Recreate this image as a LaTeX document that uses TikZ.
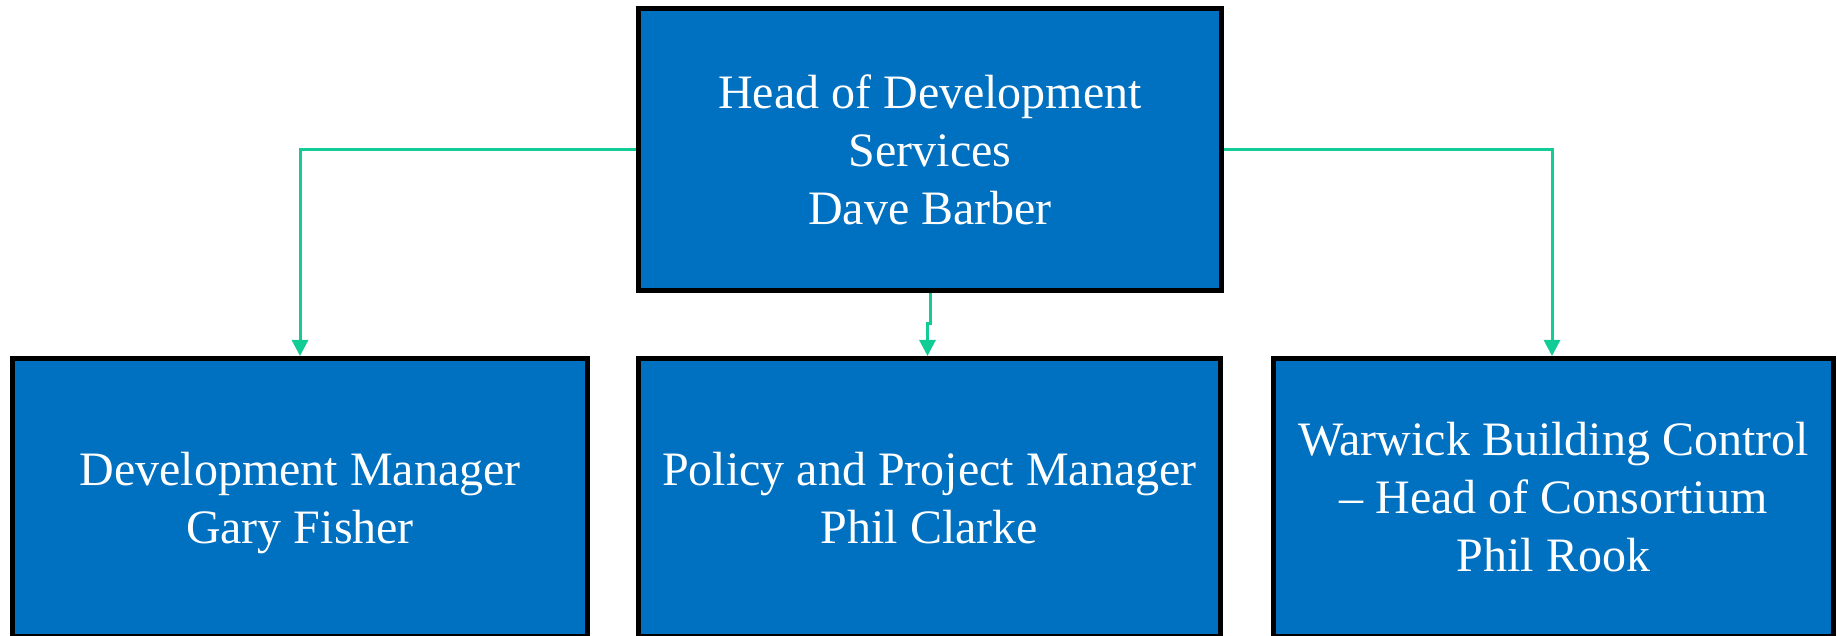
\documentclass[tikz,border=0pt]{standalone}
\usepackage{fontspec}
\setmainfont{Liberation Serif}
\usetikzlibrary{arrows.meta}
\definecolor{boxblue}{RGB}{0,112,192}
\definecolor{linkgreen}{RGB}{18,204,150}
\tikzset{
  post/.style={draw=black,line width=5pt,fill=boxblue,text=white,align=center,
    font=\fontsize{48}{58}\selectfont,minimum height=278pt},
  link/.style={draw=linkgreen,line width=3pt,-{Triangle[length=16pt,width=16pt]}}
}

\begin{document}
\begin{tikzpicture}[x=1pt,y=1pt]
\useasboundingbox (0,0) rectangle (1837,635);
\node[post,minimum width=583pt,minimum height=282pt] (head) at (930,485.5)
  {Head of Development\\Services\\Dave Barber};
\node[post,minimum width=575pt,text depth=-6pt] (dev) at (300,137.5)
  {Development Manager\\Gary Fisher};
\node[post,minimum width=582pt,text depth=-2pt] (policy) at (929.5,137.5)
  {Policy and Project Manager\\Phil Clarke};
\node[post,minimum width=560pt] (wbc) at (1553.5,137.5)
  {Warwick Building Control\\– Head of Consortium\\Phil Rook};

\draw[link] (head.west) -| (dev.north);
\draw[link] (head.east) -| ([xshift=-1.5pt]wbc.north);
\coordinate (jog) at ([yshift=-31pt]head.south);
\draw[link] (head.south) -- (jog) -- ++(-2.5,0) -- ([xshift=-2pt]policy.north);
\end{tikzpicture}
\end{document}
